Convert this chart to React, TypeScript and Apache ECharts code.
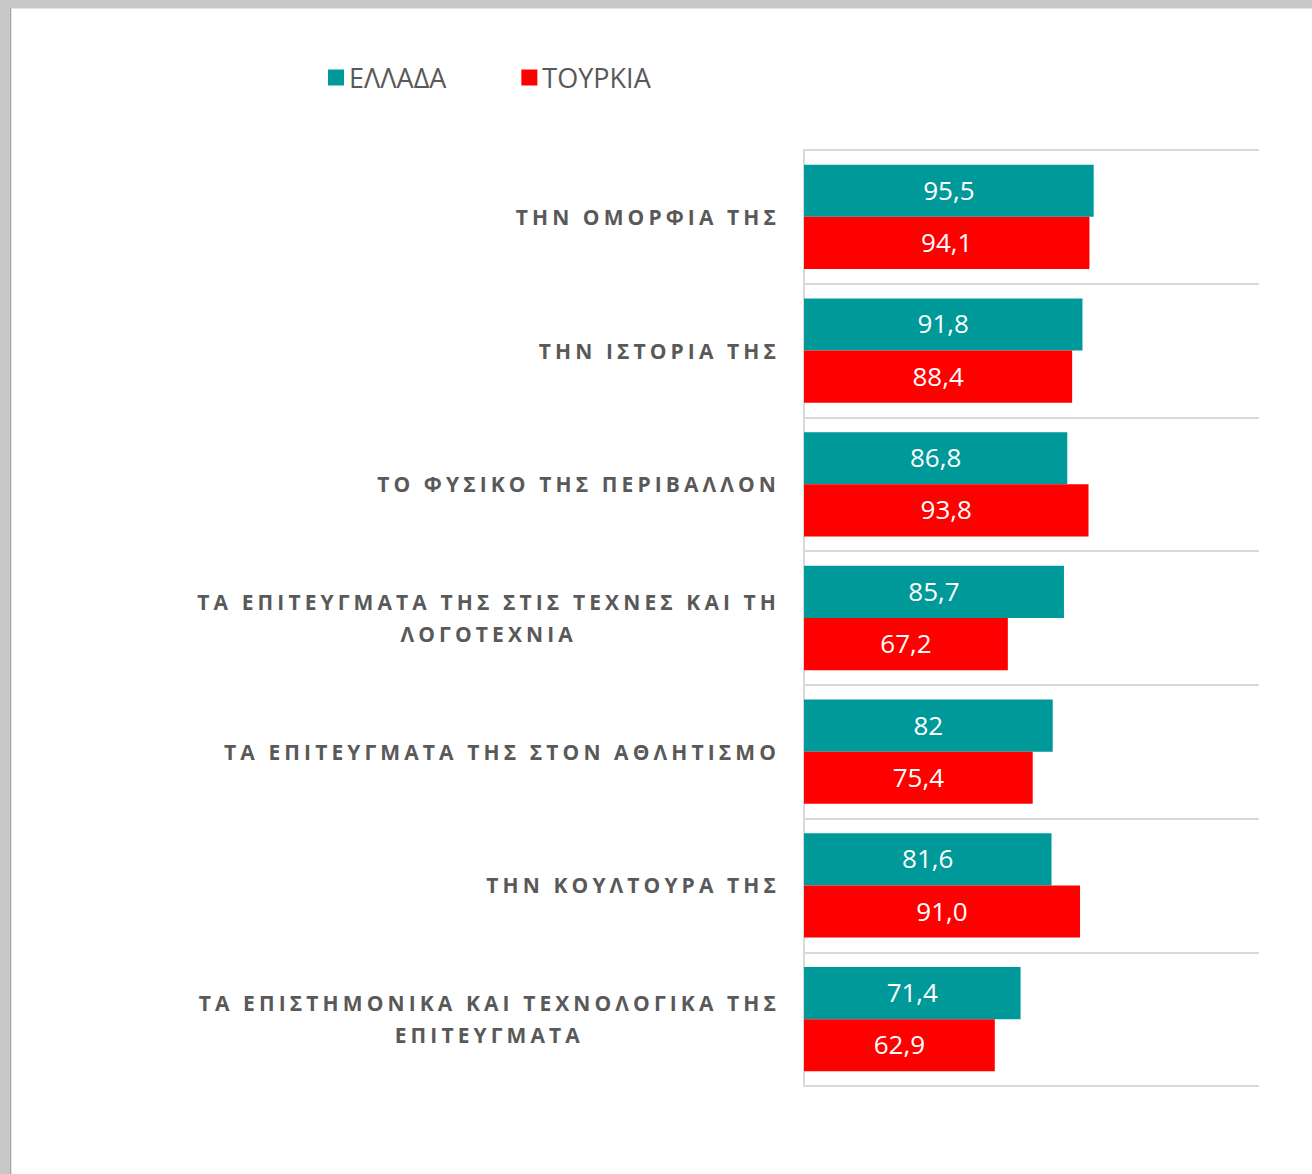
import React, { useEffect, useRef } from "react";
import * as echarts from "echarts";

const categories = [
  "ΤΗΝ ΟΜΟΡΦΙΑ ΤΗΣ",
  "ΤΗΝ ΙΣΤΟΡΙΑ ΤΗΣ",
  "ΤΟ ΦΥΣΙΚΟ ΤΗΣ ΠΕΡΙΒΑΛΛΟΝ",
  "ΤΑ ΕΠΙΤΕΥΓΜΑΤΑ ΤΗΣ ΣΤΙΣ ΤΕΧΝΕΣ ΚΑΙ ΤΗ\nΛΟΓΟΤΕΧΝΙΑ",
  "ΤΑ ΕΠΙΤΕΥΓΜΑΤΑ ΤΗΣ ΣΤΟΝ ΑΘΛΗΤΙΣΜΟ",
  "ΤΗΝ ΚΟΥΛΤΟΥΡΑ ΤΗΣ",
  "ΤΑ ΕΠΙΣΤΗΜΟΝΙΚΑ ΚΑΙ ΤΕΧΝΟΛΟΓΙΚΑ ΤΗΣ\nΕΠΙΤΕΥΓΜΑΤΑ",
];
const seriesNames = ["ΕΛΛΑΔΑ", "ΤΟΥΡΚΙΑ"];
const greece = [95.5, 91.8, 86.8, 85.7, 82, 81.6, 71.4];
const turkey = [94.1, 88.4, 93.8, 67.2, 75.4, 91.0, 62.9];

const FONT = "'Open Sans', sans-serif";
const LS = 4.1; // letter spacing for bold category labels

let measureCtx: CanvasRenderingContext2D | null = null;
echarts.setPlatformAPI({
  measureText: (text: string, font?: string) => {
    if (!measureCtx) {
      const c = document.createElement("canvas");
      measureCtx = c.getContext("2d");
    }
    const f = font || "12px sans-serif";
    measureCtx!.font = f;
    const w = measureCtx!.measureText(text).width;
    const extra = /bold|700/.test(f) ? LS * Array.from(text).length : 0;
    return { width: w + extra } as any;
  },
} as any);

export default function App() {
  const ref = useRef<HTMLDivElement>(null);
  useEffect(() => {
    if (!ref.current) return;
    const chart = echarts.init(ref.current, null, { renderer: "svg" });
    const applySpacing = () => {
      if (!ref.current) return;
      ref.current.querySelectorAll("text").forEach((el) => {
        const fw = getComputedStyle(el).fontWeight;
        if (fw === "bold" || parseInt(fw, 10) >= 700) {
          (el as SVGTextElement).style.letterSpacing = LS + "px";
        }
      });
    };
    chart.on("finished", applySpacing);
    chart.setOption({
      animation: false,
      backgroundColor: "#c7c9c7",
      graphic: [
        { type: "rect", z: -10, shape: { x: 10, y: 8, width: 1310, height: 1170 }, style: { fill: "#a3a5a3" } },
        { type: "rect", z: -9, shape: { x: 11, y: 8, width: 1310, height: 1170 }, style: { fill: "#e4e5e4" } },
        { type: "rect", z: -8, shape: { x: 12, y: 9, width: 1310, height: 1170 }, style: { fill: "#ffffff" } },
      ],
      legend: {
        left: 328,
        top: 64,
        padding: 0,
        itemWidth: 16,
        itemHeight: 16,
        itemGap: 75,
        itemTextGap: 10,
        icon: "rect",
        textStyle: { fontFamily: FONT, fontSize: 27, color: "#595959" },
        data: seriesNames,
      },
      grid: { left: 804, right: 53, top: 150, bottom: 88, containLabel: false },
      xAxis: { type: "value", min: 0, max: 150, show: false },
      yAxis: {
        type: "category",
        inverse: true,
        data: categories,
        axisLine: { show: true, lineStyle: { color: "#d9d9d9", width: 2 } },
        axisTick: { show: false },
        splitLine: { show: true, lineStyle: { color: "#d9d9d9", width: 2 } },
        axisLabel: {
          interval: 0,
          margin: 24,
          align: "right",
          formatter: (v: string) => v.split("\n").map((l) => `{a|${l}}`).join("\n"),
          rich: {
            a: {
              align: "center",
              fontFamily: FONT,
              fontSize: 21,
              fontWeight: "bold",
              color: "#595959",
              lineHeight: 32,
            },
          },
        },
      },
      series: [
        {
          name: seriesNames[0],
          type: "bar",
          data: greece,
          barGap: "0%",
          barCategoryGap: "22%",
          itemStyle: { color: "#009999" },
          label: {
            show: true,
            position: "inside",
            color: "#ffffff",
            fontFamily: FONT,
            fontSize: 26,
            offset: [0, -1],
            formatter: (p: any) => String(p.value).replace(".", ","),
          },
        },
        {
          name: seriesNames[1],
          type: "bar",
          data: turkey,
          barGap: "0%",
          barCategoryGap: "22%",
          itemStyle: { color: "#ff0000" },
          label: {
            show: true,
            position: "inside",
            color: "#ffffff",
            fontFamily: FONT,
            fontSize: 26,
            offset: [0, -1],
            formatter: (p: any) => Number(p.value).toFixed(1).replace(".", ","),
          },
        },
      ],
    });
    applySpacing();
    const t = setTimeout(applySpacing, 50);
    return () => {
      clearTimeout(t);
      chart.dispose();
    };
  }, []);
  return (
    <>
      <style>{`.chart-host text[style*="bold"]{letter-spacing:${LS}px;}`}</style>
      <div
        ref={ref}
        className="chart-host"
        style={{ position: "absolute", left: 0, top: 0, width: 1312, height: 1174 }}
      />
    </>
  );
}
